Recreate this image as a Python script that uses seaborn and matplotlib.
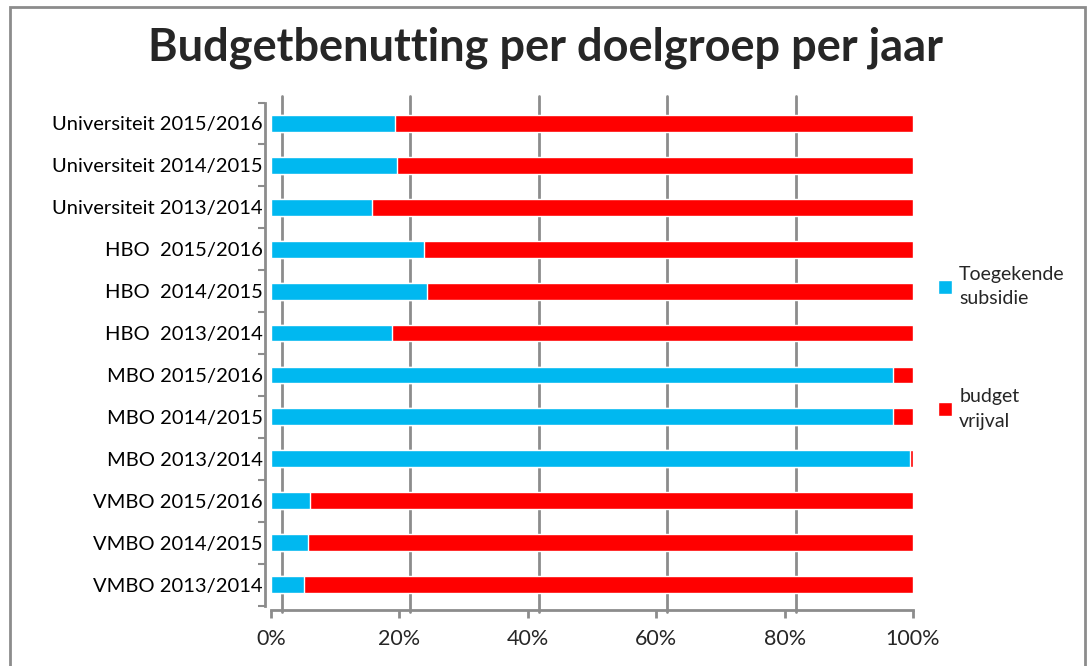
import matplotlib
matplotlib.use("Agg")
import matplotlib.pyplot as plt
import matplotlib.transforms as mtransforms
from matplotlib.patches import Rectangle, Patch
from matplotlib.ticker import PercentFormatter
import numpy as np
import pandas as pd
import seaborn as sns

# categories, top to bottom as in the chart
categories = [
    "Universiteit 2015/2016", "Universiteit 2014/2015", "Universiteit 2013/2014",
    "HBO  2015/2016", "HBO  2014/2015", "HBO  2013/2014",
    "MBO 2015/2016", "MBO 2014/2015", "MBO 2013/2014",
    "VMBO 2015/2016", "VMBO 2014/2015", "VMBO 2013/2014",
]
# share of budget granted (Toegekende subsidie)
toegekend = [0.193, 0.197, 0.158, 0.239, 0.243, 0.188,
             0.969, 0.969, 0.995, 0.060, 0.057, 0.051]
# remaining share (budget vrijval)
vrijval = [1 - v for v in toegekend]

x_ticks = [0, 0.2, 0.4, 0.6, 0.8, 1.0]

blue = "#00B8F0"
red = "#FF0000"
grey = "#8C8C8C"

df = pd.DataFrame({
    "categorie": categories,
    "toegekend": toegekend,
    "totaal": [a + b for a, b in zip(toegekend, vrijval)],
})

sns.set_style("white")
plt.rcParams["font.family"] = ["Lato", "DejaVu Sans"]

fig = plt.figure(figsize=(10.92, 6.66), dpi=100)
W, H = 1092, 666
ax = fig.add_axes([271 / W, 1 - 605.5 / H, 642 / W, 503 / H])

# stacked: full bar in red, granted part in blue on top
sns.barplot(data=df, y="categorie", x="totaal", color=red, width=0.4,
            orient="h", ax=ax, saturation=1, zorder=3)
sns.barplot(data=df, y="categorie", x="toegekend", color=blue, width=0.4,
            orient="h", ax=ax, saturation=1, zorder=4)

ax.set_xlim(0, 1)
ax.set_ylim(len(categories) - 0.5, -0.5)
ax.set_xlabel("")
ax.set_ylabel("")
ax.xaxis.set_major_formatter(PercentFormatter(1.0, decimals=0))
ax.set_xticks(x_ticks)
ax.set_yticks(np.arange(len(categories) + 1) - 0.5, minor=True)

# back-wall gridlines, shifted like the 3D chart
off = mtransforms.offset_copy(ax.transData, fig=fig, x=11, y=0, units="dots")
for t in x_ticks[:-1]:
    ax.plot([t, t], [len(categories) - 0.35, -0.65], color=grey, lw=2,
            transform=off, clip_on=False, zorder=1)

for s in ["top", "right"]:
    ax.spines[s].set_visible(False)
ax.spines["left"].set_position(("outward", 4))
ax.spines["bottom"].set_position(("outward", 3))
for s in ["left", "bottom"]:
    ax.spines[s].set_color(grey)
    ax.spines[s].set_linewidth(2)

ax.tick_params(axis="y", which="major", left=False, length=0, labelsize=14.5,
               pad=2, colors="black")
ax.tick_params(axis="y", which="minor", left=True, length=5, width=1.5,
               color=grey, direction="out")
ax.tick_params(axis="x", bottom=True, length=6, width=2, color=grey,
               labelsize=15.5, pad=8, direction="out")

fig.text(546 / W, 1 - 48 / H, "Budgetbenutting per doelgroep per jaar",
         fontsize=32.5, fontweight="bold", ha="center", va="center")

# legend
handles = [Patch(facecolor=blue), Patch(facecolor=red)]
leg = fig.legend(handles, ["Toegekende\nsubsidie", "budget\nvrijval"],
                 loc="upper left", bbox_to_anchor=(930 / W, 1 - 258 / H),
                 frameon=False, fontsize=14, labelspacing=4.15,
                 handlelength=0.75, handleheight=0.75, handletextpad=0.35,
                 borderaxespad=0)
for t in leg.get_texts():
    t.set_linespacing(1.55)

# outer chart border
fig.patches.append(Rectangle((10 / W, -0.1), 1075 / W, 1 - 7 / H + 0.1,
                             transform=fig.transFigure, fill=False,
                             edgecolor=grey, lw=2))

fig.savefig("out.png", dpi=100)
